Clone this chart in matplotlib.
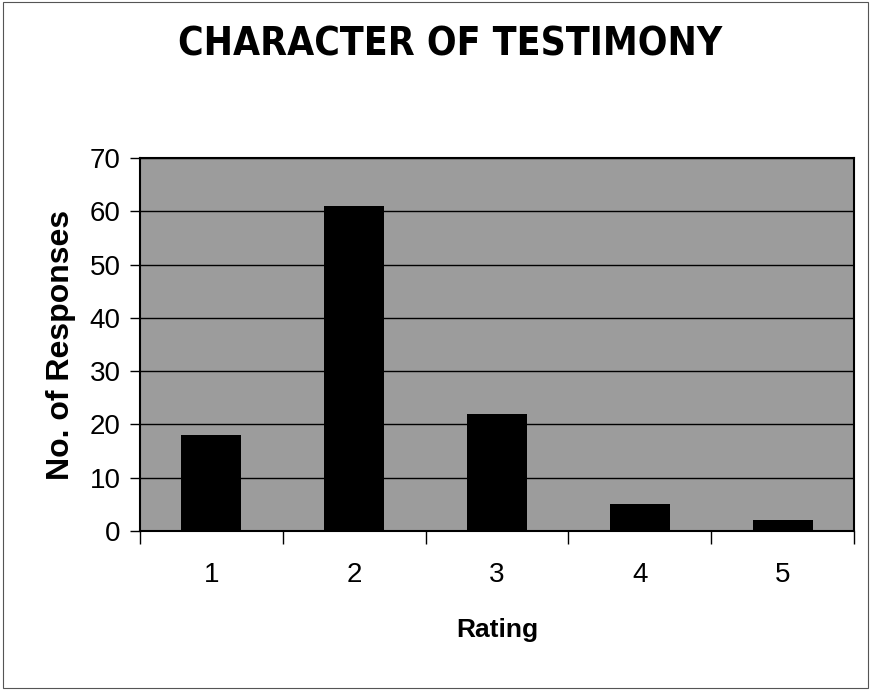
import numpy as np
import matplotlib
matplotlib.use("Agg")
import matplotlib.pyplot as plt
from matplotlib.patches import Rectangle

# data
ratings = [1, 2, 3, 4, 5]
responses = [18, 61, 22, 5, 2]
yticks = [0, 10, 20, 30, 40, 50, 60, 70]

plt.rcParams['font.family'] = ['Liberation Sans', 'DejaVu Sans']

fig = plt.figure(figsize=(8.71, 6.90), dpi=100)
ax = fig.add_axes([140/871, 1 - 531/690, 714/871, 373/690])

ax.set_facecolor('#9c9c9c')
x = np.arange(len(ratings))
ax.bar(x, responses, width=0.42, color='black', zorder=3)

ax.set_xlim(-0.5, len(ratings) - 0.5)
ax.set_ylim(0, 70)
ax.set_yticks(yticks)
ax.set_yticklabels([str(v) for v in yticks], fontsize=20)
ax.yaxis.grid(True, color='black', linewidth=1.0, zorder=1)
ax.set_axisbelow(True)

# category labels centred, tick marks between categories
ax.set_xticks(x)
ax.set_xticklabels([str(r) for r in ratings], fontsize=20)
ax.tick_params(axis='x', length=0, pad=22)
ax.set_xticks(np.arange(-0.5, len(ratings)), minor=True)
ax.tick_params(axis='x', which='minor', length=9, width=1, direction='out')
ax.tick_params(axis='y', length=7, width=1, direction='out', pad=7)

for s in ax.spines.values():
    s.set_linewidth(1.5)
    s.set_color('black')

ax.set_ylabel('No. of Responses', fontsize=23, fontweight='bold', labelpad=10)
ax.set_xlabel('Rating', fontsize=19, fontweight='bold', labelpad=22)

fig.text(0.517, 1 - 45/690, 'CHARACTER OF TESTIMONY', fontsize=28,
         fontweight='bold', fontstretch='condensed', ha='center', va='center',
         family=['DejaVu Sans'])

# thin frame around the whole chart
fig.patches.append(Rectangle((0.003, 0.003), 0.994, 0.994, transform=fig.transFigure,
                             fill=False, edgecolor='#555555', linewidth=0.8))

fig.savefig('out.png', dpi=100)
